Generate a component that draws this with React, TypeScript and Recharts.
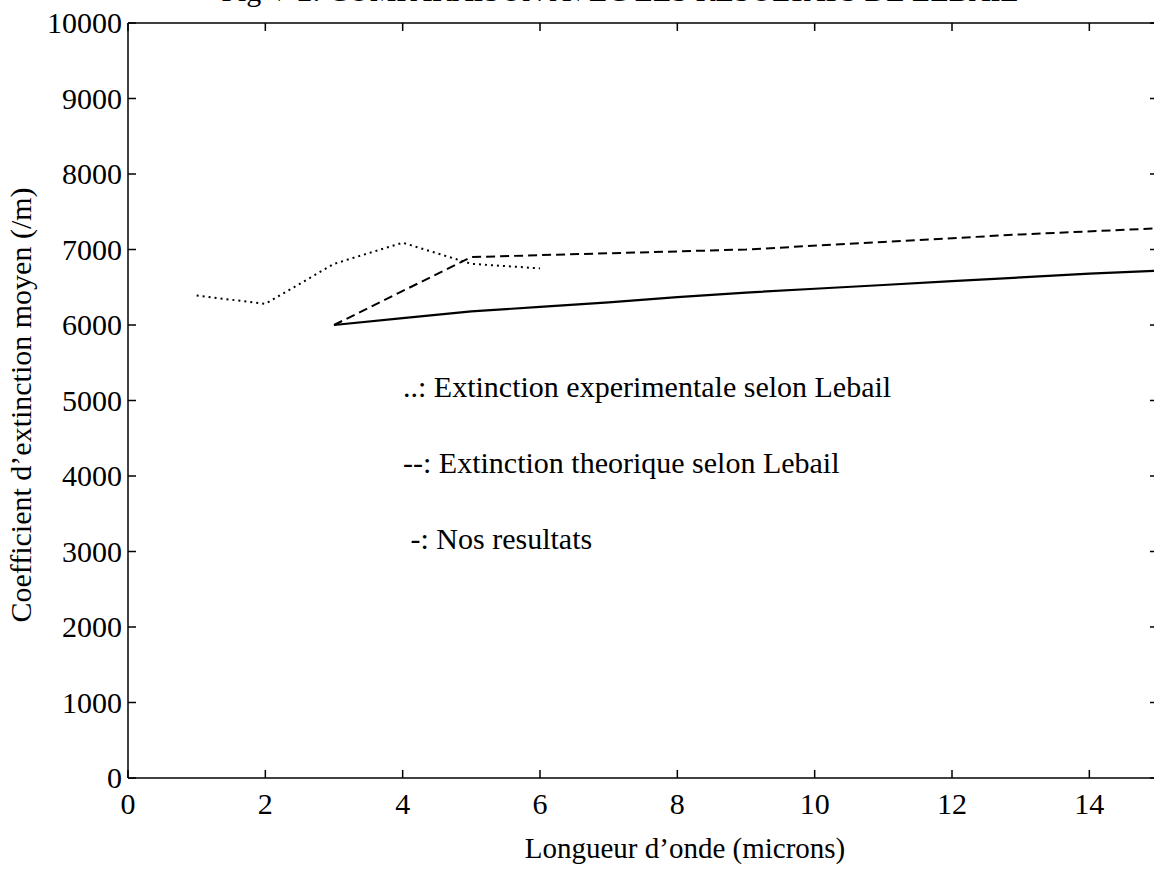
import React from 'react';
import { LineChart, Line, XAxis, YAxis, Label } from 'recharts';

const xTicks = [0, 2, 4, 6, 8, 10, 12, 14];
const yTicks = [0, 1000, 2000, 3000, 4000, 5000, 6000, 7000, 8000, 9000, 10000];

const expX = [1, 2, 3, 4, 5, 6];
const expY = [6390, 6280, 6810, 7090, 6810, 6750];

const theoX = [3, 5, 7, 9, 11, 13, 15];
const theoY = [6000, 6900, 6950, 7000, 7100, 7200, 7280];

const ourX = [3, 4, 5, 6, 7, 8, 9, 10, 11, 12, 13, 14, 15];
const ourY = [6000, 6090, 6180, 6240, 6300, 6370, 6430, 6480, 6530, 6580, 6630, 6680, 6720];

const legendLines = [
  '..: Extinction experimentale selon Lebail',
  '--: Extinction theorique selon Lebail',
  ' -: Nos resultats',
];

const titleText = 'Fig V-2: COMPARAISON AVEC LES RESULTATS DE LEBAIL';
const xTitle = 'Longueur d\u2019onde (microns)';
const yTitle = 'Coefficient d\u2019extinction moyen (/m)';

const zip = (xs: number[], ys: number[]) => xs.map((x, i) => ({ x, y: ys[i] }));
const expData = zip(expX, expY);
const theoData = zip(theoX, theoY);
const ourData = zip(ourX, ourY);

const FONT = '"Liberation Serif", "DejaVu Serif", serif';
const TICK = 8;
const PLOT_TOP = 23;
const PLOT_BOTTOM = 778;
const PLOT_LEFT = 128;
const PLOT_RIGHT = 1158;
const FS = 30;

const BottomTick = (props: any) => {
  const { x, payload } = props;
  return (
    <g>
      <line x1={x} y1={PLOT_BOTTOM} x2={x} y2={PLOT_BOTTOM - TICK} stroke="#000" strokeWidth={1.5} />
      <text x={x} y={PLOT_BOTTOM + 36} textAnchor="middle" fontFamily={FONT} fontSize={FS} fill="#000">
        {payload.value}
      </text>
    </g>
  );
};

const TopTick = (props: any) => {
  const { x } = props;
  return <line x1={x} y1={PLOT_TOP} x2={x} y2={PLOT_TOP + TICK} stroke="#000" strokeWidth={1.5} />;
};

const LeftTick = (props: any) => {
  const { y, payload } = props;
  return (
    <g>
      <line x1={PLOT_LEFT} y1={y} x2={PLOT_LEFT + TICK} y2={y} stroke="#000" strokeWidth={1.5} />
      <text x={PLOT_LEFT - 6} y={y + 10} textAnchor="end" fontFamily={FONT} fontSize={FS} fill="#000">
        {payload.value}
      </text>
    </g>
  );
};

const RightTick = (props: any) => {
  const { y } = props;
  return <line x1={PLOT_RIGHT} y1={y} x2={PLOT_RIGHT - TICK} y2={y} stroke="#000" strokeWidth={1.5} />;
};

export default function App() {
  return (
    <div
      style={{
        position: 'absolute',
        left: 0,
        top: 0,
        width: 1154,
        height: 883,
        overflow: 'hidden',
        background: '#fff',
      }}
    >
      <LineChart
        width={1170}
        height={883}
        margin={{ top: PLOT_TOP - 1, right: 11, left: 0, bottom: 0 }}
      >
        <XAxis
          xAxisId="b"
          dataKey="x"
          type="number"
          domain={[0, 15]}
          ticks={xTicks}
          allowDataOverflow
          orientation="bottom"
          height={105}
          tickLine={false}
          axisLine={{ stroke: '#000', strokeWidth: 1.5 }}
          tick={<BottomTick />}
          interval={0}
        >
          <Label
            content={() => (
              <text
                x={685}
                y={858}
                textAnchor="middle"
                fontFamily={FONT}
                fontSize={29}
                fill="#000"
              >
                {xTitle}
              </text>
            )}
          />
        </XAxis>
        <XAxis
          xAxisId="t"
          dataKey="x"
          type="number"
          domain={[0, 15]}
          ticks={xTicks}
          allowDataOverflow
          orientation="top"
          height={1}
          tickLine={false}
          axisLine={{ stroke: '#000', strokeWidth: 1.5 }}
          tick={<TopTick />}
          interval={0}
        />
        <YAxis
          yAxisId="l"
          type="number"
          domain={[0, 10000]}
          ticks={yTicks}
          allowDataOverflow
          orientation="left"
          width={128}
          tickLine={false}
          axisLine={{ stroke: '#000', strokeWidth: 1.5 }}
          tick={<LeftTick />}
          interval={0}
        >
          <Label
            content={() => (
              <text
                x={0}
                y={0}
                transform="translate(31, 405) rotate(-90)"
                textAnchor="middle"
                fontFamily={FONT}
                fontSize={FS}
                fill="#000"
              >
                {yTitle}
              </text>
            )}
          />
        </YAxis>
        <YAxis
          yAxisId="r"
          type="number"
          domain={[0, 10000]}
          ticks={yTicks}
          allowDataOverflow
          orientation="right"
          width={1}
          tickLine={false}
          axisLine={{ stroke: '#000', strokeWidth: 1.5 }}
          tick={<RightTick />}
          interval={0}
        />
        <Line
          xAxisId="b"
          yAxisId="l"
          data={expData}
          dataKey="y"
          stroke="#000"
          strokeWidth={2}
          strokeDasharray="2 4"
          dot={false}
          isAnimationActive={false}
          type="linear"
        />
        <Line
          xAxisId="t"
          yAxisId="r"
          data={theoData}
          dataKey="y"
          stroke="#000"
          strokeWidth={2}
          strokeDasharray="9 5"
          dot={false}
          isAnimationActive={false}
          type="linear"
        />
        <Line
          xAxisId="b"
          yAxisId="l"
          data={ourData}
          dataKey="y"
          stroke="#000"
          strokeWidth={2.2}
          dot={false}
          isAnimationActive={false}
          type="linear"
        />
      </LineChart>
      <div
        style={{
          position: 'absolute',
          left: 620,
          top: -26,
          transform: 'translateX(-50%)',
          whiteSpace: 'nowrap',
          fontFamily: FONT,
          fontSize: 30,
          lineHeight: '34px',
          color: '#000',
        }}
      >
        {titleText}
      </div>
      {legendLines.map((t, i) => (
        <div
          key={i}
          style={{
            position: 'absolute',
            left: 403,
            top: 369 + i * 76,
            whiteSpace: 'pre',
            fontFamily: FONT,
            fontSize: FS,
            lineHeight: '36px',
            color: '#000',
          }}
        >
          {t}
        </div>
      ))}
    </div>
  );
}
